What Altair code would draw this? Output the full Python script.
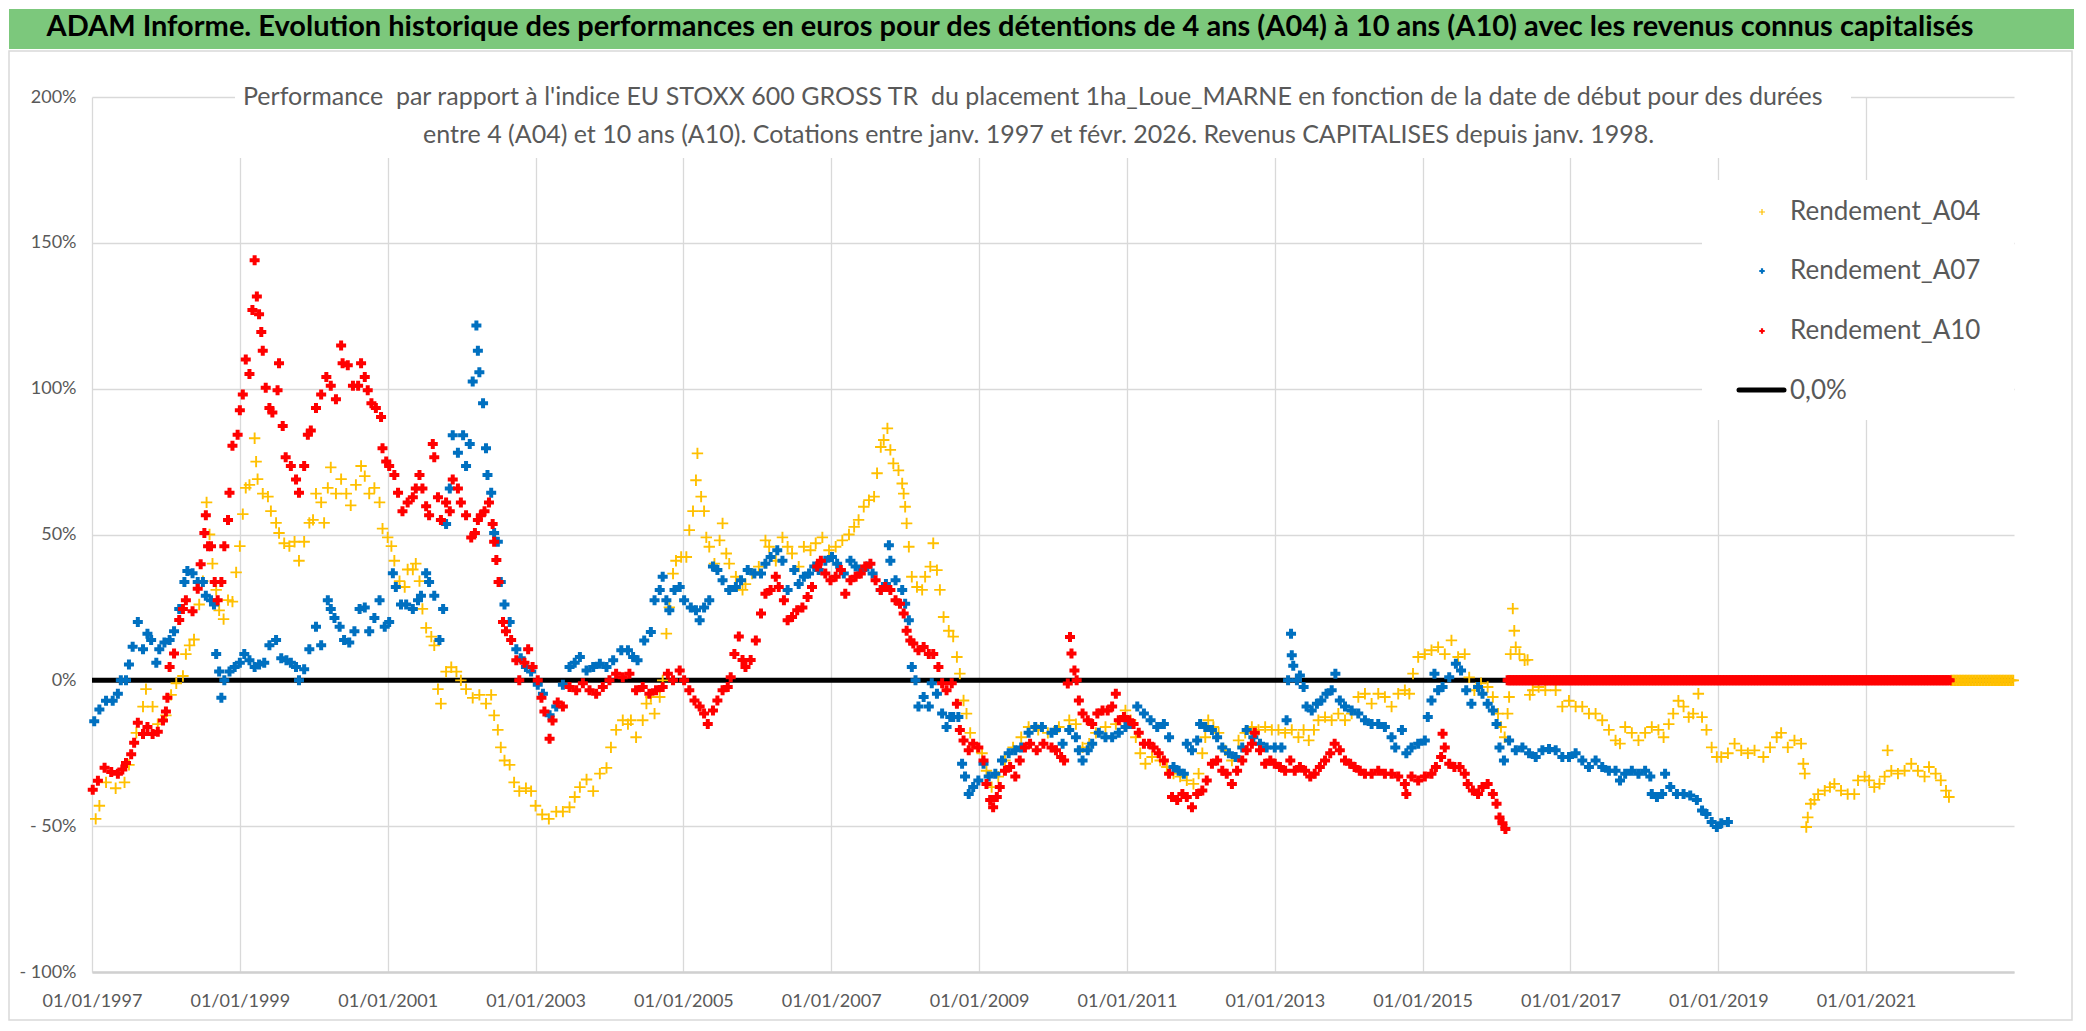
import altair as alt
import numpy as np
import pandas as pd

# ---------------- data (fractional year of start date, performance in %) ----------------
A04_t = [1997.05, 1997.10, 1997.19, 1997.32, 1997.44, 1997.50, 1997.60, 1997.69, 1997.73, 1997.82,
         1997.89, 1998.00, 1998.07, 1998.14, 1998.23, 1998.27, 1998.32, 1998.38, 1998.45, 1998.50,
         1998.55, 1998.59, 1998.63, 1998.68, 1998.72, 1998.78, 1998.84, 1998.90, 1998.95, 1999.00,
         1999.04, 1999.08, 1999.13, 1999.20, 1999.22, 1999.24, 1999.31, 1999.38, 1999.42, 1999.49,
         1999.53, 1999.60, 1999.67, 1999.74, 1999.80, 1999.87, 1999.94, 1999.99, 2000.03, 2000.10,
         2000.14, 2000.19, 2000.23, 2000.30, 2000.37, 2000.44, 2000.50, 2000.57, 2000.64, 2000.69,
         2000.75, 2000.82, 2000.89, 2000.93, 2001.00, 2001.05, 2001.09, 2001.16, 2001.23, 2001.27,
         2001.34, 2001.38, 2001.43, 2001.47, 2001.52, 2001.59, 2001.63, 2001.68, 2001.72, 2001.79,
         2001.86, 2001.93, 2001.99, 2002.06, 2002.15, 2002.24, 2002.33, 2002.40, 2002.44, 2002.49,
         2002.53, 2002.58, 2002.65, 2002.71, 2002.78, 2002.87, 2002.94, 2003.00, 2003.09, 2003.18,
         2003.28, 2003.37, 2003.46, 2003.53, 2003.60, 2003.69, 2003.78, 2003.87, 2003.96, 2004.02,
         2004.09, 2004.18, 2004.25, 2004.29, 2004.36, 2004.45, 2004.50, 2004.56, 2004.61, 2004.68,
         2004.72, 2004.77, 2004.81, 2004.86, 2004.90, 2004.97, 2005.04, 2005.08, 2005.13, 2005.17,
         2005.19, 2005.24, 2005.28, 2005.31, 2005.35, 2005.42, 2005.49, 2005.53, 2005.58, 2005.62,
         2005.71, 2005.80, 2005.84, 2005.93, 2006.02, 2006.11, 2006.16, 2006.25, 2006.34, 2006.41,
         2006.47, 2006.56, 2006.63, 2006.72, 2006.79, 2006.88, 2006.97, 2007.06, 2007.15, 2007.24,
         2007.31, 2007.37, 2007.44, 2007.51, 2007.58, 2007.62, 2007.67, 2007.71, 2007.76, 2007.80,
         2007.84, 2007.91, 2007.96, 2007.98, 2008.00, 2008.02, 2008.05, 2008.09, 2008.16, 2008.23,
         2008.27, 2008.34, 2008.38, 2008.43, 2008.47, 2008.52, 2008.59, 2008.65, 2008.70, 2008.74,
         2008.79, 2008.83, 2008.88, 2008.97, 2009.04, 2009.10, 2009.17, 2009.26, 2009.35, 2009.46,
         2009.57, 2009.67, 2009.80, 2009.93, 2010.08, 2010.22, 2010.31, 2010.40, 2010.49, 2010.58,
         2010.71, 2010.85, 2010.98, 2011.05, 2011.12, 2011.18, 2011.25, 2011.34, 2011.45, 2011.54,
         2011.63, 2011.72, 2011.81, 2011.90, 2011.97, 2012.02, 2012.06, 2012.10, 2012.17, 2012.24,
         2012.33, 2012.42, 2012.51, 2012.60, 2012.69, 2012.78, 2012.87, 2012.96, 2013.05, 2013.14,
         2013.23, 2013.32, 2013.39, 2013.46, 2013.53, 2013.59, 2013.68, 2013.77, 2013.86, 2013.95,
         2014.04, 2014.13, 2014.22, 2014.31, 2014.40, 2014.49, 2014.58, 2014.67, 2014.76, 2014.82,
         2014.87, 2014.94, 2015.03, 2015.12, 2015.21, 2015.30, 2015.39, 2015.48, 2015.57, 2015.63,
         2015.70, 2015.79, 2015.88, 2015.95, 2016.02, 2016.06, 2016.11, 2016.15, 2016.17, 2016.19,
         2016.22, 2016.24, 2016.26, 2016.31, 2016.38, 2016.42, 2016.45, 2016.49, 2016.57, 2016.66,
         2016.80, 2016.89, 2016.98, 2017.07, 2017.16, 2017.25, 2017.34, 2017.43, 2017.52, 2017.61,
         2017.67, 2017.74, 2017.83, 2017.92, 2018.01, 2018.10, 2018.19, 2018.26, 2018.33, 2018.39,
         2018.46, 2018.53, 2018.60, 2018.66, 2018.73, 2018.78, 2018.84, 2018.91, 2018.98, 2019.04,
         2019.13, 2019.22, 2019.31, 2019.40, 2019.49, 2019.61, 2019.70, 2019.79, 2019.85, 2019.94,
         2020.03, 2020.12, 2020.15, 2020.17, 2020.19, 2020.21, 2020.25, 2020.30, 2020.35, 2020.44,
         2020.51, 2020.57, 2020.66, 2020.75, 2020.84, 2020.89, 2020.98, 2021.04, 2021.11, 2021.18,
         2021.25, 2021.29, 2021.34, 2021.43, 2021.52, 2021.61, 2021.70, 2021.79, 2021.85, 2021.94,
         2022.01, 2022.08, 2022.12]
A04_v = [-47.5, -43, -35, -37, -35, -29, -18, -9, -3, -9,
         -15, -12, -5, -1, 1.5, 9, 12, 14, 26, 34,
         61, 50, 40, 31, 24, 21, 27.5, 27, 37, 46,
         57, 66, 67, 83, 75, 69, 64, 63, 58, 54,
         50.5, 47, 46, 47.5, 41, 47.5, 54, 55, 64, 61,
         54, 66, 73, 64, 69, 64, 60, 67, 73.5, 70,
         64, 66, 61, 52, 49, 46, 41, 34, 32, 38,
         38, 40, 34, 24.5, 18, 15, 12, -3, -8, 3,
         4.5, 3, 0, -3, -6, -5, -8, -5, -12, -17,
         -23, -27.5, -29, -35, -38, -37, -38, -43, -46, -47.5,
         -45, -45, -43.5, -40, -36.6, -34, -38, -32, -30, -23,
         -17, -13.7, -15, -13.7, -19.5, -13.7, -8, -5.7, -11.4, -5.7,
         0, 16, 25, 36.6, 41, 42.3, 42.3, 51.5, 58, 68.6,
         77.8, 63, 58, 49, 45.8, 40, 48, 53.8, 43.5, 40,
         35.5, 31, 33, 36.6, 39, 48, 45.8, 41, 49, 45.8,
         43.5, 39, 45.8, 44.6, 47, 49, 44.6, 45.8, 48, 50,
         52.6, 55, 59.5, 61.8, 63, 71, 80, 82.4, 86.4, 79,
         74.4, 72, 67.5, 64, 59.5, 53.8, 45.8, 35.5, 32, 31,
         35.5, 39, 47, 37.8, 31, 21.7, 17, 15, 8, 2.3,
         -6.9, -11.4, -18, -23, -25, -31, -36.6, -33, -27.5, -23,
         -19.5, -16, -17, -18, -16, -13.7, -15, -23, -21.7, -18,
         -16, -15, -10.3, -13.7, -19.5, -25, -28.6, -26.3, -27.5, -29.7,
         -32, -33, -34.3, -35.5, -32, -25, -19.5, -13.7, -16, -18,
         -24, -27.5, -20.6, -18, -16, -17, -16, -17, -17, -18,
         -17, -19.5, -17, -20.6, -17, -13.7, -12.6, -13.7, -11.4, -13.7,
         -11.4, -5.7, -4.6, -8, -4.6, -5.7, -9, -4.6, -3.4, -4.6,
         2.3, 8, 9, 10.3, 11.4, 9, 13.7, 8, 9, 1,
         -3.4, -1, -2.3, -5.7, -11.4, -16, -19.5, -11.4, -5.7, 9,
         24.6, 17, 11.4, 9, 6.9, 7, -5, -3.4, -2.3, -3.4,
         -3.4, -9, -7, -9, -9, -11.4, -11.4, -13.7, -17, -20.6,
         -21.7, -16, -18, -20.6, -18, -16, -17, -19.5, -15, -11.4,
         -7, -9, -12.6, -11.4, -4.6, -12.6, -17, -23, -26.3, -26.3,
         -25, -21.7, -24, -25, -24, -26.3, -23, -19.5, -18, -23,
         -20.6, -21.7, -28.6, -32, -50.3, -47, -42.3, -41, -39, -37.8,
         -36.6, -35.5, -37.8, -39, -39, -34.3, -33, -34.3, -36.6, -35.5,
         -33, -24, -31, -32, -31, -28.6, -31, -33, -29.7, -32,
         -34.3, -37.8, -40]

A07_t = [1997.03, 1997.10, 1997.19, 1997.28, 1997.35, 1997.39, 1997.46, 1997.50, 1997.55, 1997.62,
         1997.69, 1997.75, 1997.80, 1997.87, 1997.91, 1997.98, 1998.05, 1998.11, 1998.18, 1998.25,
         1998.29, 1998.36, 1998.43, 1998.50, 1998.54, 1998.61, 1998.65, 1998.68, 1998.72, 1998.75,
         1998.79, 1998.86, 1998.93, 1999.00, 1999.06, 1999.13, 1999.20, 1999.26, 1999.33, 1999.40,
         1999.49, 1999.56, 1999.63, 1999.69, 1999.76, 1999.80, 1999.87, 1999.94, 2000.03, 2000.10,
         2000.19, 2000.23, 2000.28, 2000.35, 2000.41, 2000.48, 2000.55, 2000.62, 2000.69, 2000.75,
         2000.82, 2000.89, 2000.96, 2001.02, 2001.07, 2001.11, 2001.18, 2001.25, 2001.34, 2001.41,
         2001.45, 2001.52, 2001.56, 2001.63, 2001.70, 2001.75, 2001.79, 2001.84, 2001.88, 2001.95,
         2002.02, 2002.06, 2002.11, 2002.15, 2002.20, 2002.22, 2002.24, 2002.29, 2002.33, 2002.35,
         2002.40, 2002.44, 2002.49, 2002.53, 2002.58, 2002.65, 2002.74, 2002.80, 2002.87, 2002.94,
         2003.03, 2003.10, 2003.19, 2003.28, 2003.37, 2003.46, 2003.53, 2003.60, 2003.69, 2003.78,
         2003.87, 2003.96, 2004.05, 2004.16, 2004.25, 2004.32, 2004.38, 2004.47, 2004.56, 2004.61,
         2004.68, 2004.72, 2004.77, 2004.81, 2004.88, 2004.95, 2005.01, 2005.10, 2005.17, 2005.22,
         2005.28, 2005.35, 2005.40, 2005.46, 2005.53, 2005.62, 2005.71, 2005.78, 2005.87, 2005.96,
         2006.05, 2006.11, 2006.18, 2006.27, 2006.34, 2006.41, 2006.50, 2006.56, 2006.63, 2006.70,
         2006.77, 2006.83, 2006.92, 2007.01, 2007.08, 2007.17, 2007.26, 2007.33, 2007.42, 2007.49,
         2007.56, 2007.67, 2007.74, 2007.78, 2007.80, 2007.87, 2007.96, 2008.00, 2008.05, 2008.09,
         2008.14, 2008.18, 2008.25, 2008.32, 2008.36, 2008.43, 2008.50, 2008.56, 2008.61, 2008.65,
         2008.72, 2008.77, 2008.81, 2008.86, 2008.92, 2008.99, 2009.06, 2009.13, 2009.22, 2009.31,
         2009.40, 2009.49, 2009.57, 2009.67, 2009.76, 2009.85, 2009.98, 2010.04, 2010.13, 2010.22,
         2010.31, 2010.35, 2010.40, 2010.47, 2010.53, 2010.62, 2010.71, 2010.80, 2010.89, 2010.98,
         2011.07, 2011.14, 2011.23, 2011.32, 2011.41, 2011.50, 2011.57, 2011.63, 2011.70, 2011.77,
         2011.81, 2011.88, 2011.95, 2011.99, 2012.06, 2012.15, 2012.22, 2012.29, 2012.38, 2012.47,
         2012.56, 2012.62, 2012.71, 2012.80, 2012.89, 2013.00, 2013.09, 2013.16, 2013.18, 2013.22,
         2013.23, 2013.25, 2013.30, 2013.34, 2013.39, 2013.43, 2013.50, 2013.57, 2013.63, 2013.70,
         2013.77, 2013.82, 2013.88, 2013.95, 2014.04, 2014.13, 2014.22, 2014.31, 2014.40, 2014.49,
         2014.58, 2014.63, 2014.72, 2014.78, 2014.85, 2014.94, 2015.03, 2015.07, 2015.12, 2015.16,
         2015.21, 2015.27, 2015.36, 2015.45, 2015.52, 2015.59, 2015.66, 2015.75, 2015.81, 2015.88,
         2015.95, 2016.00, 2016.04, 2016.10, 2016.17, 2016.26, 2016.35, 2016.44, 2016.53, 2016.62,
         2016.71, 2016.80, 2016.89, 2016.98, 2017.07, 2017.16, 2017.25, 2017.34, 2017.43, 2017.52,
         2017.61, 2017.67, 2017.74, 2017.83, 2017.92, 2018.01, 2018.08, 2018.10, 2018.17, 2018.24,
         2018.28, 2018.35, 2018.44, 2018.53, 2018.62, 2018.71, 2018.78, 2018.84, 2018.91, 2018.98,
         2019.04, 2019.13]
A07_v = [-14, -10, -7, -7, -4.6, 0, 0, 5.4, 11.5, 20,
         10.7, 16, 13.8, 6, 10.7, 13, 13.8, 16.8, 24.5, 33.7,
         37.5, 36.7, 33.7, 33.7, 29, 27.5, 26, 9, 3, -6,
         0, 3, 4.6, 6, 9, 6.9, 4.6, 5.4, 6, 12,
         13.8, 7.6, 6.9, 6, 4.6, 0, 3.8, 10.7, 18.4, 12,
         27.5, 24.5, 21.4, 18.4, 13.8, 13, 16.8, 24.5, 25, 16.8,
         21.4, 27.5, 18.4, 20, 36.7, 32, 26, 26, 24.5, 27.5,
         29, 36.7, 33.7, 29, 13.8, 24.5, 53.6, 65.8, 84, 78,
         84, 73.5, 81, 102.5, 121.7, 113, 105.6, 95, 79.6, 70.4,
         64.3, 50.5, 47.5, 33.7, 26, 20, 10.7, 7.6, 4.6, 3,
         -1.5, -4.6, -12, -9, -1.5, 4.6, 6, 8, 3.4, 4.6,
         5.7, 4.6, 6.9, 10.3, 10.3, 8, 6.9, 13.7, 16.6, 27.5,
         31, 35.5, 27.5, 24, 31, 32, 27.5, 25, 24, 20.6,
         25, 27.5, 39, 37.8, 34.3, 31, 32, 34.3, 37.8, 36.6,
         36.6, 40, 42.3, 44.6, 41, 31, 37.8, 33, 35.5, 36.6,
         39, 37.8, 41, 42.3, 40, 36.6, 41, 39, 37.8, 39,
         36.6, 31, 33, 46.3, 41, 34.3, 31, 26.3, 20.6, 4.6,
         0, -9, -5.7, -9, -1, -4.6, -11.4, -16, -12.6, -12.6,
         -12.6, -28.6, -33, -39, -36.6, -34.3, -28.6, -33, -32, -27.5,
         -25, -24, -23, -18, -16, -16, -18, -17, -21.7, -17,
         -19.5, -24, -27.5, -24, -21.7, -18, -19.5, -19.5, -18, -16,
         -15, -9, -11.4, -13.7, -16, -15, -19.5, -29.7, -31, -32,
         -21.7, -24, -20.6, -15, -16, -17, -19.5, -23, -25, -26.3,
         -23, -17, -19.5, -21.7, -23, -23, -23, -13.7, 0, 16,
         8.6, 5, 0, 1.7, -2.3, -9, -10.3, -8, -6.9, -4.6,
         -3.4, 2.3, -6.9, -9, -10.3, -11.4, -13.7, -15, -15, -16,
         -19.5, -23, -17, -25, -23, -21.7, -20.6, -12.6, -6.9, 2.3,
         -3.4, -2.3, 1.1, 5.7, 3.4, -3.4, -8, -2.3, -4.6, -8,
         -10.3, -15, -23, -27.5, -20.6, -24, -23, -25, -26.3, -24,
         -23.5, -24, -26.3, -26.3, -25, -27.5, -29.7, -27.5, -29.7, -31,
         -31, -34.3, -32, -31, -32, -31, -33, -39, -40, -39,
         -32, -36.6, -39, -39, -39.5, -41, -44.6, -45.8, -48.6, -50.3,
         -49, -48.6]

A10_t = [1997.01, 1997.08, 1997.17, 1997.26, 1997.35, 1997.41, 1997.46, 1997.53, 1997.57, 1997.62,
         1997.69, 1997.75, 1997.82, 1997.89, 1997.96, 1998.00, 1998.02, 1998.05, 1998.11, 1998.18,
         1998.23, 1998.27, 1998.36, 1998.43, 1998.47, 1998.52, 1998.54, 1998.57, 1998.61, 1998.66,
         1998.70, 1998.75, 1998.79, 1998.84, 1998.86, 1998.90, 1998.97, 1999.00, 1999.04, 1999.08,
         1999.13, 1999.17, 1999.20, 1999.23, 1999.26, 1999.29, 1999.31, 1999.35, 1999.40, 1999.44,
         1999.51, 1999.53, 1999.58, 1999.62, 1999.69, 1999.76, 1999.80, 1999.87, 1999.92, 1999.96,
         2000.03, 2000.10, 2000.17, 2000.23, 2000.30, 2000.37, 2000.39, 2000.46, 2000.53, 2000.60,
         2000.64, 2000.69, 2000.73, 2000.78, 2000.84, 2000.91, 2000.93, 2000.98, 2001.02, 2001.09,
         2001.14, 2001.20, 2001.27, 2001.34, 2001.38, 2001.43, 2001.47, 2001.52, 2001.56, 2001.61,
         2001.63, 2001.68, 2001.72, 2001.79, 2001.84, 2001.88, 2001.95, 2001.99, 2002.06, 2002.13,
         2002.18, 2002.22, 2002.26, 2002.31, 2002.37, 2002.42, 2002.44, 2002.47, 2002.50, 2002.56,
         2002.60, 2002.67, 2002.74, 2002.78, 2002.85, 2002.90, 2002.96, 2003.03, 2003.08, 2003.12,
         2003.19, 2003.23, 2003.30, 2003.37, 2003.46, 2003.55, 2003.64, 2003.73, 2003.82, 2003.91,
         2004.00, 2004.09, 2004.18, 2004.27, 2004.36, 2004.45, 2004.54, 2004.63, 2004.72, 2004.79,
         2004.86, 2004.95, 2005.01, 2005.08, 2005.15, 2005.22, 2005.28, 2005.33, 2005.40, 2005.46,
         2005.53, 2005.60, 2005.64, 2005.69, 2005.75, 2005.80, 2005.84, 2005.91, 2005.98, 2006.05,
         2006.11, 2006.18, 2006.25, 2006.29, 2006.36, 2006.41, 2006.47, 2006.54, 2006.61, 2006.68,
         2006.74, 2006.81, 2006.86, 2006.92, 2006.99, 2007.06, 2007.13, 2007.19, 2007.26, 2007.33,
         2007.40, 2007.46, 2007.53, 2007.60, 2007.67, 2007.73, 2007.80, 2007.87, 2007.93, 2007.98,
         2008.02, 2008.07, 2008.11, 2008.18, 2008.25, 2008.32, 2008.38, 2008.45, 2008.50, 2008.56,
         2008.63, 2008.70, 2008.74, 2008.79, 2008.86, 2008.92, 2008.99, 2009.06, 2009.10, 2009.15,
         2009.19, 2009.24, 2009.28, 2009.35, 2009.42, 2009.49, 2009.55, 2009.62, 2009.69, 2009.78,
         2009.87, 2009.98, 2010.04, 2010.11, 2010.15, 2010.20, 2010.23, 2010.25, 2010.29, 2010.32,
         2010.35, 2010.40, 2010.47, 2010.53, 2010.60, 2010.67, 2010.74, 2010.80, 2010.85, 2010.89,
         2010.96, 2011.03, 2011.09, 2011.16, 2011.23, 2011.30, 2011.36, 2011.43, 2011.50, 2011.57,
         2011.61, 2011.68, 2011.75, 2011.81, 2011.88, 2011.95, 2012.02, 2012.08, 2012.15, 2012.22,
         2012.29, 2012.35, 2012.42, 2012.49, 2012.56, 2012.62, 2012.69, 2012.73, 2012.80, 2012.87,
         2012.94, 2013.00, 2013.07, 2013.14, 2013.21, 2013.27, 2013.34, 2013.41, 2013.48, 2013.54,
         2013.61, 2013.68, 2013.75, 2013.81, 2013.88, 2013.95, 2014.02, 2014.08, 2014.15, 2014.22,
         2014.31, 2014.40, 2014.49, 2014.58, 2014.67, 2014.76, 2014.78, 2014.85, 2014.94, 2015.03,
         2015.12, 2015.18, 2015.25, 2015.27, 2015.30, 2015.36, 2015.43, 2015.50, 2015.57, 2015.61,
         2015.68, 2015.75, 2015.81, 2015.88, 2015.95, 2016.00, 2016.04, 2016.08, 2016.12]
A10_v = [-37.5, -34.4, -30, -31.4, -32, -30.6, -28.3, -25.3, -21.4, -14.5,
         -18.4, -16, -18.4, -17.6, -13.8, -10.7, -6, 4.6, 9.2, 20.7,
         24.5, 27.5, 23.7, 31.4, 39.8, 50.5, 56.6, 46, 46, 33.7,
         27.5, 33.7, 46, 55, 64.3, 80.4, 84.2, 92.6, 98, 110,
         105, 127, 144, 131.6, 125.5, 119.4, 113, 100.3, 93.4, 91.8,
         99.5, 108.7, 87.2, 76.5, 73.5, 68.9, 64.3, 73.5, 84.2, 85.7,
         93.4, 98, 104, 101, 96.4, 114.8, 108.7, 108, 101, 101,
         108.7, 104, 99.5, 95, 93.4, 90.3, 79.6, 75, 73.5, 70.4,
         64.3, 58, 61, 62.8, 65.8, 70.4, 65.8, 59.7, 56.6, 81,
         76.5, 62.8, 55, 61, 58, 68.9, 65.8, 61, 56.6, 49,
         50.5, 55, 56.6, 58, 61, 53.6, 47.5, 41.3, 33.7, 20,
         16.8, 13.8, 6.9, 0, 6, 10.7, 4.6, 0, -6, -10.7,
         -20, -13.8, -7.6, -9, -2.3, -3.4, -1, -3.4, -4.6, -2.3,
         0, 2.3, 1.1, 2.3, -3.4, -2.3, -4.6, -3.4, -2.3, 2.3,
         0, 3.4, 0, -3.4, -6.9, -9, -11.4, -15, -10.3, -6.9,
         -3.4, -2.3, 1.1, 9, 15, 7, 4.6, 7, 13.7, 22.9,
         29.7, 31, 35.5, 32, 27.5, 20.6, 21.7, 24, 25, 28.6,
         32, 39, 41, 36.6, 34.3, 35.5, 37.8, 29.7, 34.3, 35.5,
         36.6, 39, 40, 34.3, 31, 32, 31, 27.5, 26.3, 22.9,
         17, 13.7, 12.6, 10.3, 11.4, 9, 9, 4.6, -1, -3.4,
         -1, -8, -17, -20.6, -24, -21.7, -23, -27.5, -35.5, -41,
         -43.5, -40, -36.6, -31, -29.7, -33, -27.5, -23, -21.7, -24,
         -21.7, -23, -24, -26.3, -27.5, -1.1, 14.9, 9.2, 3.4, 0,
         -6.9, -11.4, -13.7, -15, -11.4, -10.3, -10.3, -9, -4.6, -13.7,
         -12.6, -13.7, -15, -18, -21.7, -21.7, -23, -25, -27.5, -32,
         -40, -41, -39, -40, -43.5, -39, -37.8, -34.3, -28.6, -27.5,
         -31, -32, -35.5, -31, -27.5, -24, -21.7, -18, -24, -28.6,
         -27.5, -28.6, -29.7, -31, -27.5, -31, -29.7, -31, -33, -32,
         -29.7, -27.5, -25, -21.7, -24, -27.5, -28.6, -29.7, -31, -32,
         -32, -31, -32, -32, -33, -35.5, -39, -33, -34.3, -33,
         -32, -29.7, -26.3, -18.3, -23, -28.6, -29.7, -29.7, -32, -35.5,
         -37.8, -39, -36.6, -35.5, -39, -42.3, -47, -49, -51]

# after the last computable start date the series are shown at 0 %
A10_zero_span = [2016.15, 2022.15]
A04_zero_span = [2022.15, 2023.00]
ZERO_STEP = 0.02

X_TICKS = list(range(1997, 2022, 2))
Y_TICKS = [-100, -50, 0, 50, 100, 150, 200]

TITLE = "ADAM Informe. Evolution historique des performances en euros pour des détentions de 4 ans (A04) à 10 ans (A10) avec les revenus connus capitalisés"
SUB1 = "Performance\u00a0 par rapport à l'indice EU STOXX 600 GROSS TR\u00a0 du placement 1ha_Loue_MARNE en fonction de la date de début pour des durées"
SUB2 = "entre 4 (A04) et 10 ans (A10). Cotations entre janv. 1997 et févr. 2026. Revenus CAPITALISES depuis janv. 1998."
LEGEND = ["Rendement_A04", "Rendement_A07", "Rendement_A10", "0,0%"]
COLORS = {"A04": "#FFC000", "A07": "#0070C0", "A10": "#FF0000"}

# ---------------- build ----------------
W, H = 1922, 875
FONT = "Lato"
GREY = "#595959"

df04 = pd.DataFrame({"t": A04_t, "v": A04_v})
df07 = pd.DataFrame({"t": A07_t, "v": A07_v})
df10 = pd.DataFrame({"t": A10_t, "v": A10_v})
z10_t = np.arange(A10_zero_span[0], A10_zero_span[1], ZERO_STEP)
z04_t = np.arange(A04_zero_span[0], A04_zero_span[1], ZERO_STEP)
df10z = pd.DataFrame({"t": z10_t, "v": np.zeros(len(z10_t))})
df04z = pd.DataFrame({"t": z04_t, "v": np.zeros(len(z04_t))})

x_enc = alt.X("t:Q", scale=alt.Scale(domain=[1997, 2023], nice=False, zero=False),
              axis=alt.Axis(values=X_TICKS, labelExpr="'01/01/' + datum.value", title=None,
                            grid=True, gridColor="#d9d9d9", gridWidth=1.3, ticks=False,
                            domain=True, domainColor="#d0d0d0", domainWidth=2.5,
                            labelFont=FONT, labelFontSize=18, labelColor=GREY, labelPadding=20,
                            labelFlush=False, labelOverlap=False))
y_enc = alt.Y("v:Q", scale=alt.Scale(domain=[-100, 200], nice=False, zero=False),
              axis=alt.Axis(values=Y_TICKS,
                            labelExpr="datum.value < 0 ? '- ' + abs(datum.value) + '%' : datum.value + '%'",
                            title=None, grid=True, gridColor="#d9d9d9", gridWidth=1.3, ticks=False,
                            domain=False, labelFont=FONT, labelFontSize=18, labelColor=GREY,
                            labelPadding=16, labelFlush=False, labelOverlap=False))

one = pd.DataFrame({"a": [0]})


def box(x1, x2, y1, y2, **kw):
    return alt.Chart(one).mark_rect(**kw).encode(
        x=alt.value(x1), x2=alt.value(x2), y=alt.value(y1), y2=alt.value(y2))


def label(txt, x, y, **kw):
    return alt.Chart(one).mark_text(text=txt, font=FONT, **kw).encode(x=alt.value(x), y=alt.value(y))


PLUS = "M-1,0H1M0,-1V1"

band = box(-83, 1982, -88, -48, color="#7CC87C")
border = box(-83, 1980, -46, 923, fill=None, stroke="#d9d9d9", strokeWidth=1.5)
sub_box = box(143, 1759, -35, 61, color="white")
leg_box = box(1610, 1922, 83, 323, color="white")

zero_rule = alt.Chart(one).mark_rule(color="black", strokeWidth=5).encode(y=alt.datum(0))

pts04 = alt.Chart(df04).mark_point(shape=PLUS, filled=False, color=COLORS["A04"], strokeWidth=1.9,
                                   size=130, opacity=1).encode(x=x_enc, y=y_enc)
pts04z = alt.Chart(df04z).mark_point(shape=PLUS, filled=False, color=COLORS["A04"], strokeWidth=1.9,
                                     size=130, opacity=1).encode(x=x_enc, y=y_enc)
pts07 = alt.Chart(df07).mark_point(shape="cross", filled=True, color=COLORS["A07"], size=100,
                                   opacity=1).encode(x=x_enc, y=y_enc)
pts10 = alt.Chart(df10).mark_point(shape="cross", filled=True, color=COLORS["A10"], size=100,
                                   opacity=1).encode(x=x_enc, y=y_enc)
pts10z = alt.Chart(df10z).mark_point(shape="cross", filled=True, color=COLORS["A10"], size=100,
                                     opacity=1).encode(x=x_enc, y=y_enc)

title = label(TITLE, 918, -61, fontSize=29, fontWeight="bold", color="black", align="center",
              baseline="alphabetic")
sub1 = label(SUB1, 151, 8, fontSize=25, color=GREY, align="left", baseline="alphabetic")
sub2 = label(SUB2, 331, 46, fontSize=25, color=GREY, align="left", baseline="alphabetic")

leg = []
leg_y = [115, 174, 234]
for i, (k, txt) in enumerate(zip(["A04", "A07", "A10"], LEGEND[:3])):
    if k == "A04":
        m = alt.Chart(one).mark_point(shape=PLUS, filled=False, color=COLORS[k], strokeWidth=1.2,
                                      size=36, opacity=1)
    else:
        m = alt.Chart(one).mark_point(shape="cross", filled=True, color=COLORS[k], size=30, opacity=1)
    leg.append(m.encode(x=alt.value(1670), y=alt.value(leg_y[i])))
    leg.append(label(txt, 1698, leg_y[i] + 8, fontSize=26, color=GREY, align="left",
                     baseline="alphabetic"))
leg.append(alt.Chart(one).mark_rule(color="black", strokeWidth=5, strokeCap="round").encode(
    x=alt.value(1647), x2=alt.value(1692), y=alt.value(293)))
leg.append(label(LEGEND[3], 1698, 302, fontSize=26, color=GREY, align="left", baseline="alphabetic"))

chart = alt.layer(
    band, border, sub_box, leg_box, zero_rule,
    pts04, pts04z, pts07, pts10, pts10z,
    title, sub1, sub2, *leg
).properties(
    width=W, height=H,
    autosize=alt.AutoSizeParams(type="none"),
    padding={"left": 84, "top": 89, "right": 62, "bottom": 50},
    background="white",
).configure_view(strokeWidth=0)

chart.save("out.html", embed_options={"renderer": "svg", "actions": False})
